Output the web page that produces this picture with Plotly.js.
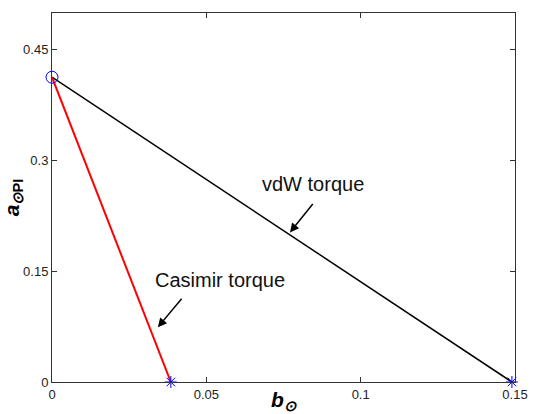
<!DOCTYPE html>
<html><head><meta charset="utf-8">
<script src="https://cdn.plot.ly/plotly-3.0.1.min.js"></script>
<style>html,body{margin:0;padding:0;background:#fff}#c{width:533px;height:414px}</style>
</head><body><div id="c"></div>
<script>
const aStart = 0.413;
const vdwX = [0, 0.149];
const vdwY = [aStart, 0];
const casX = [0, 0.0385];
const casY = [aStart, 0];
const xTicks = [0, 0.05, 0.1, 0.15];
const xTickText = ['0', '0.05', '0.1', '0.15'];
const yTicks = [0, 0.15, 0.3, 0.45];
const yTickText = ['0', '0.15', '0.3', '0.45'];
const labels = ['vdW torque', 'Casimir torque'];

const traces = [
  {x: vdwX, y: vdwY, mode: 'lines', line: {color: '#000', width: 1.5}, cliponaxis: false},
  {x: casX, y: casY, mode: 'lines', line: {color: '#ff0000', width: 2}, cliponaxis: false},
  {x: [vdwX[0]], y: [vdwY[0]], mode: 'markers', marker: {symbol: 'circle-open', size: 12, color: '#0000ff', line: {width: 1}}, cliponaxis: false},
  {x: [vdwX[1], casX[1]], y: [vdwY[1], casY[1]], mode: 'markers', marker: {symbol: 'asterisk-open', size: 10, color: '#0000ff', line: {width: 1, color: '#0000ff'}}, cliponaxis: false}
];

const layout = {
  width: 533, height: 414,
  margin: {l: 52, r: 18, t: 13, b: 32},
  paper_bgcolor: '#fff', plot_bgcolor: '#fff',
  showlegend: false,
  font: {family: 'Liberation Sans, Arial, sans-serif', size: 12, color: '#222'},
  xaxis: {range: [0, 0.15], tickvals: xTicks, ticktext: xTickText, ticks: 'inside', ticklen: 5, tickcolor: '#333',
    showline: true, linecolor: '#333', linewidth: 1, mirror: 'allticks', showgrid: false, zeroline: false,
    tickfont: {size: 13, color: '#222'}, fixedrange: true,
    title: {text: '<b><i>b</i></b><sub><b><i>⊙</i></b></sub>', font: {size: 21, color: '#000'}, standoff: 0}},
  yaxis: {range: [0, 0.5], tickvals: yTicks, ticktext: yTickText, ticks: 'inside', ticklen: 5, tickcolor: '#333',
    showline: true, linecolor: '#333', linewidth: 1, mirror: 'allticks', showgrid: false, zeroline: false,
    tickfont: {size: 13, color: '#222'}, fixedrange: true,
    title: {text: '<b><i>a</i></b><sub><b><i>⊙</i>PI</b></sub>', font: {size: 21, color: '#000'}, standoff: 6}},
  annotations: [
    {x: 0.0771, y: 0.2027, ax: 24, ay: -30, showarrow: true, arrowhead: 2, arrowsize: 1.2, arrowwidth: 1.5, arrowcolor: '#000', text: ''},
    {x: 0.0343, y: 0.0743, ax: 25, ay: -30, showarrow: true, arrowhead: 2, arrowsize: 1.2, arrowwidth: 1.5, arrowcolor: '#000', text: ''},
    {x: 0.0846, y: 0.2689, text: labels[0], showarrow: false, font: {size: 20, color: '#111'}},
    {x: 0.0544, y: 0.1378, text: labels[1], showarrow: false, font: {size: 20, color: '#111'}}
  ]
};
Plotly.newPlot('c', traces, layout, {displayModeBar: false, staticPlot: true});
</script></body></html>
